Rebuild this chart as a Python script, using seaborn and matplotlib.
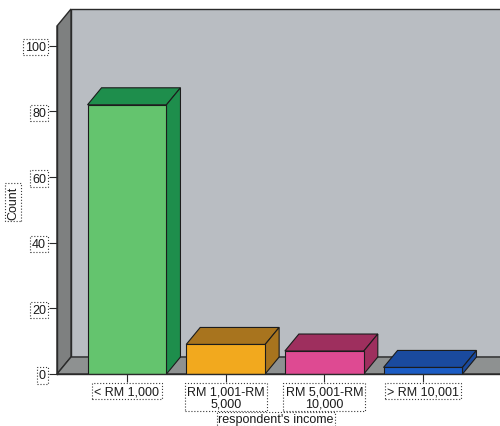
import matplotlib
matplotlib.use("Agg")
import matplotlib.pyplot as plt
import seaborn as sns
import numpy as np
from matplotlib.patches import Polygon

# Data
categories = ["< RM 1,000", "RM 1,001-RM\n5,000", "RM 5,001-RM\n10,000", "> RM 10,001"]
counts = [82, 9, 7, 2]
front_colors = ["#64c46e", "#f2a91e", "#de4a92", "#1b5cc4"]
shade_colors = ["#1e8e4c", "#a8741e", "#9e2f5e", "#1a4a9e"]
y_ticks = [0, 20, 40, 60, 80, 100]

sns.set_theme(style="white")
plt.rcParams["font.family"] = ["Liberation Sans", "DejaVu Sans"]
plt.rcParams["text.color"] = "#1a1a1a"
plt.rcParams["xtick.labelcolor"] = "#1a1a1a"
plt.rcParams["ytick.labelcolor"] = "#1a1a1a"
plt.rcParams["axes.labelcolor"] = "#1a1a1a"

fig = plt.figure(figsize=(5.0, 4.27), dpi=100)
W, H = 500, 427
x0_px, y0_px, top_px = 57, 375, 10
ax = fig.add_axes([x0_px / W, (H - y0_px) / H, 1 - x0_px / W, (y0_px - top_px) / H])
ax.set_facecolor("none")

spacing = 98.67
xl = (x0_px - 127) / spacing
xr = (W - 127) / spacing
ymax = (y0_px - top_px) / 3.283

sns.barplot(x=categories, y=counts, hue=categories, palette=front_colors,
            saturation=1, width=0.8, edgecolor="#1c1c1c", linewidth=0.8,
            legend=False, ax=ax, zorder=3)
ax.set_xlim(xl, xr)
ax.set_ylim(0, ymax)

# depth offset of the 3-D look, in data units
inv = ax.transData.inverted()
p0 = ax.transData.transform((0, 0))
ddx, ddy = inv.transform(p0 + np.array([14, 17])) - inv.transform(p0)
wall_top = ymax - ddy

# back wall, left wall, floor
ax.add_patch(Polygon([(xl + ddx, ddy), (xl + ddx, ymax), (xr + 1, ymax), (xr + 1, ddy)],
                     closed=True, fc="#b9bdc2", ec="#2a2a2a", lw=1.0, zorder=0.5, clip_on=False))
ax.add_patch(Polygon([(xl, 0), (xl, wall_top), (xl + ddx, ymax), (xl + ddx, ddy)],
                     closed=True, fc="#7e8080", ec="#2a2a2a", lw=1.0, zorder=0.6, clip_on=False))
ax.add_patch(Polygon([(xl, 0), (xl + ddx, ddy), (xr + 1, ddy), (xr + 1, 0)],
                     closed=True, fc="#8e9191", ec="#2a2a2a", lw=1.0, zorder=0.6, clip_on=False))

# top and side faces of each bar
for patch, shade in zip(ax.patches[:len(counts)], shade_colors):
    x, w, h = patch.get_x(), patch.get_width(), patch.get_height()
    top = [(x, h), (x + w, h), (x + w + ddx, h + ddy), (x + ddx, h + ddy)]
    side = [(x + w, 0), (x + w, h), (x + w + ddx, h + ddy), (x + w + ddx, ddy)]
    for pts in (top, side):
        ax.add_patch(Polygon(pts, closed=True, fc=shade, ec="#1c1c1c", lw=0.8, zorder=2.5))

# axes lines and ticks
for s in ("top", "right"):
    ax.spines[s].set_visible(False)
ax.spines["left"].set_bounds(0, wall_top)
for s in ("left", "bottom"):
    ax.spines[s].set_color("#2a2a2a")
    ax.spines[s].set_linewidth(1.0)
    ax.spines[s].set_zorder(4)

box = dict(boxstyle="square,pad=0.18", fc="white", ec="#3a3a3a", lw=0.8, ls=":")
ax.set_yticks(y_ticks)
ax.set_yticklabels([str(v) for v in y_ticks], fontsize=9)
ax.set_xticks(range(len(categories)))
ax.set_xticklabels(categories, fontsize=9, multialignment="center", linespacing=1.0)
ax.tick_params(axis="both", which="both", length=6, width=0.8, color="#2a2a2a",
               direction="out", left=True, bottom=True, pad=2)
for lab in ax.get_yticklabels() + ax.get_xticklabels():
    lab.set_bbox(box)

ax.set_ylabel("Count", fontsize=9, bbox=box)
ax.set_xlabel("respondent's income", fontsize=9, va="center",
              bbox=dict(boxstyle="square,pad=0.1", fc="white", ec="#3a3a3a", lw=0.8, ls=":"))
ax.yaxis.set_label_coords((19 - x0_px) / (W - x0_px), (y0_px - 203) / (y0_px - top_px))
ax.xaxis.set_label_coords((276 - x0_px) / (W - x0_px), (y0_px - 420) / (y0_px - top_px))

fig.savefig("out.png", dpi=100, facecolor="white")
